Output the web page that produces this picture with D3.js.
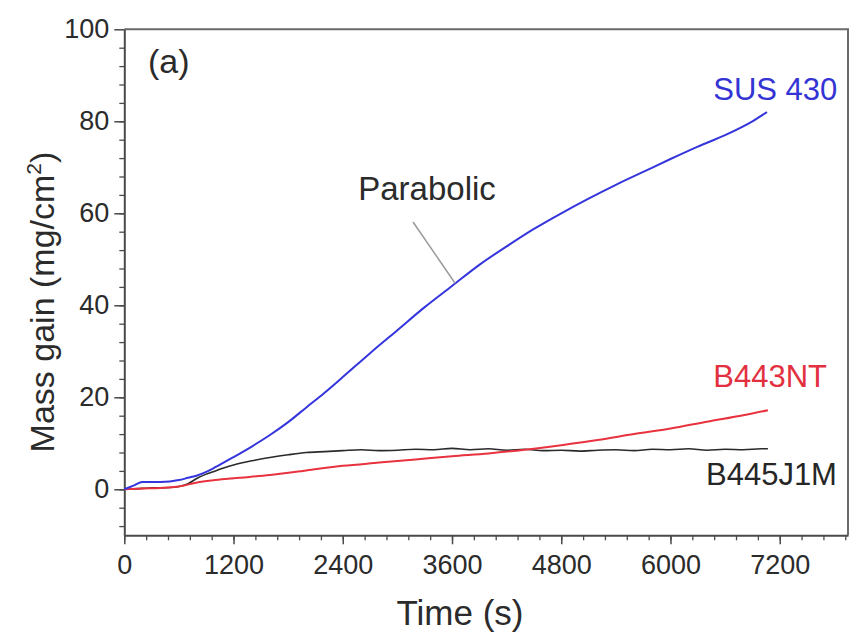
<!DOCTYPE html>
<html>
<head>
<meta charset="utf-8">
<script src="https://cdn.jsdelivr.net/npm/d3@7"></script>
<style>
  html, body { margin: 0; padding: 0; background: #fff; }
  svg { display: block; font-family: "Liberation Sans", Arial, sans-serif; }
</style>
</head>
<body>
<div id="chart"></div>
<script>
// values
const xTicks = [0, 1200, 2400, 3600, 4800, 6000, 7200];
const yTicks = [0, 20, 40, 60, 80, 100];

const susTime = [0, 100, 200, 300, 400, 500, 600, 700, 800, 900, 1000, 1200, 1400, 1600, 1800, 2000, 2200, 2400, 2700, 3000, 3300, 3600, 3900, 4200, 4500, 4800, 5100, 5400, 5700, 6000, 6300, 6600, 6900, 7060];
const susMass = [0, 0.8, 1.6, 1.6, 1.6, 1.7, 2.0, 2.5, 3.0, 3.8, 4.8, 7.0, 9.3, 11.8, 14.6, 17.8, 21.0, 24.4, 29.6, 34.6, 39.6, 44.2, 48.8, 52.8, 56.6, 60.0, 63.2, 66.2, 69.0, 71.8, 74.5, 77.0, 80.0, 82.0];

const ntTime = [0, 200, 400, 600, 800, 1000, 1200, 1600, 2000, 2400, 2800, 3200, 3600, 4000, 4400, 4800, 5200, 5600, 6000, 6400, 6800, 7070];
const ntMass = [0, 0.2, 0.3, 0.6, 1.5, 2.0, 2.4, 3.1, 4.1, 5.1, 5.8, 6.5, 7.2, 7.8, 8.6, 9.6, 10.7, 12.0, 13.2, 14.7, 16.1, 17.2];

const jmTime = [0, 100, 200, 300, 400, 500, 600, 700, 800, 900, 1000, 1100, 1200, 1400, 1600, 1800, 2000, 2200, 2400, 2600, 2800, 3000, 3200, 3400, 3600, 3800, 4000, 4200, 4400, 4600, 4800, 5000, 5200, 5400, 5600, 5800, 6000, 6200, 6400, 6600, 6800, 7000, 7070];
const jmMass = [0, 0.1, 0.2, 0.3, 0.3, 0.4, 0.6, 1.2, 2.4, 3.3, 4.0, 4.7, 5.3, 6.2, 6.9, 7.5, 8.0, 8.2, 8.4, 8.6, 8.4, 8.5, 8.7, 8.6, 8.9, 8.6, 8.8, 8.5, 8.7, 8.4, 8.5, 8.3, 8.5, 8.6, 8.4, 8.7, 8.6, 8.8, 8.5, 8.7, 8.6, 8.8, 8.8];

const seriesNames = ["SUS 430", "B443NT", "B445J1M"];
const seriesColors = ["#3535dd", "#e8323e", "#2a2a2a"];
const labelColors = ["#3434d4", "#e33040", "#262626"];
// label anchor in data units (time, mass)
const labelPos = [[6470, 84.6], [6470, 22.2], [6390, 1]];

const width = 849;
const height = 632;
const margins = { top: 29.3, right: 1, bottom: 96.7, left: 124.3 };

var svg = d3.select("#chart")
    .append("svg")
    .attr("width", width)
    .attr("height", height);

var x = d3.scaleLinear()
    .domain([0, 7950])
    .range([margins.left, width - margins.right]);

var y = d3.scaleLinear()
    .domain([-10, 100])
    .range([height - margins.bottom, margins.top]);

const axisColor = "#4a4a4a";
const textColor = "#2b2b2b";

// frame: top and right
svg.append("path")
    .attr("d", `M${x(0)},${y(100)}H${x(7950)}V${y(-10)}`)
    .attr("fill", "none")
    .attr("stroke", "#6a6a6a")
    .attr("stroke-width", 2);

// minor ticks
var gxMinor = svg.append("g")
    .attr("transform", `translate(0,${y(-10)})`)
    .call(d3.axisBottom(x).tickValues(d3.range(0, 7950, 240)).tickSize(5).tickFormat(""));
var gyMinor = svg.append("g")
    .attr("transform", `translate(${x(0)},0)`)
    .call(d3.axisLeft(y).tickValues(d3.range(-8, 100, 4)).tickSize(5).tickFormat(""));
[gxMinor, gyMinor].forEach(g => {
    g.select(".domain").remove();
    g.selectAll("line").attr("stroke", axisColor).attr("stroke-width", 1.3);
});

var gx = svg.append("g")
    .attr("transform", `translate(0,${y(-10)})`)
    .call(d3.axisBottom(x).tickValues(xTicks).tickFormat(d3.format("d")).tickSize(9).tickPadding(11).tickSizeOuter(0));
var gy = svg.append("g")
    .attr("transform", `translate(${x(0)},0)`)
    .call(d3.axisLeft(y).tickValues(yTicks).tickFormat(d3.format("d")).tickSize(10).tickPadding(5).tickSizeOuter(0));

[gx, gy].forEach(g => {
    g.select(".domain").attr("stroke", axisColor).attr("stroke-width", 2);
    g.selectAll("line").attr("stroke", axisColor).attr("stroke-width", 1.5);
    g.selectAll("text")
        .attr("fill", textColor)
        .style("font-size", "27px")
        .style("font-family", "'Liberation Sans', Arial, sans-serif");
});

// axis titles
svg.append("text")
    .attr("x", 460)
    .attr("y", 625)
    .attr("text-anchor", "middle")
    .attr("fill", textColor)
    .style("font-size", "35px")
    .text("Time (s)");

var yTitle = svg.append("text")
    .attr("transform", "translate(54,302) rotate(-90)")
    .attr("text-anchor", "middle")
    .attr("fill", textColor)
    .style("font-size", "34px");
yTitle.append("tspan").text("Mass gain (mg/cm");
yTitle.append("tspan").attr("dy", -13).style("font-size", "21px").text("2");
yTitle.append("tspan").attr("dy", 13).text(")");

// lines
const series = [
    susTime.map((t, i) => [t, susMass[i]]),
    ntTime.map((t, i) => [t, ntMass[i]]),
    jmTime.map((t, i) => [t, jmMass[i]])
];

var line = d3.line()
    .x(d => x(d[0]))
    .y(d => y(d[1]))
    .curve(d3.curveMonotoneX);

// draw black first, then red, then blue on top
[2, 1, 0].forEach(i => {
    svg.append("path")
        .datum(series[i])
        .attr("fill", "none")
        .attr("stroke", seriesColors[i])
        .attr("stroke-width", i == 2 ? 1.6 : 2)
        .attr("stroke-linejoin", "round")
        .attr("d", line);
});

// series labels
svg.selectAll(".series-label")
    .data(seriesNames)
    .join("text")
    .attr("class", "series-label")
    .attr("x", (d, i) => x(labelPos[i][0]))
    .attr("y", (d, i) => y(labelPos[i][1]))
    .attr("fill", (d, i) => labelColors[i])
    .style("font-size", "31px")
    .text(d => d);

// "(a)" and the parabolic annotation
svg.append("text")
    .attr("x", x(260))
    .attr("y", y(90.5))
    .attr("fill", textColor)
    .style("font-size", "34px")
    .text("(a)");

svg.append("text")
    .attr("x", x(2570))
    .attr("y", y(62.9))
    .attr("fill", textColor)
    .style("font-size", "33px")
    .text("Parabolic");

svg.append("line")
    .attr("x1", x(3172))
    .attr("y1", y(58.1))
    .attr("x2", x(3634))
    .attr("y2", y(44.8))
    .attr("stroke", "#9a9a9a")
    .attr("stroke-width", 1.5);
</script>
</body>
</html>
